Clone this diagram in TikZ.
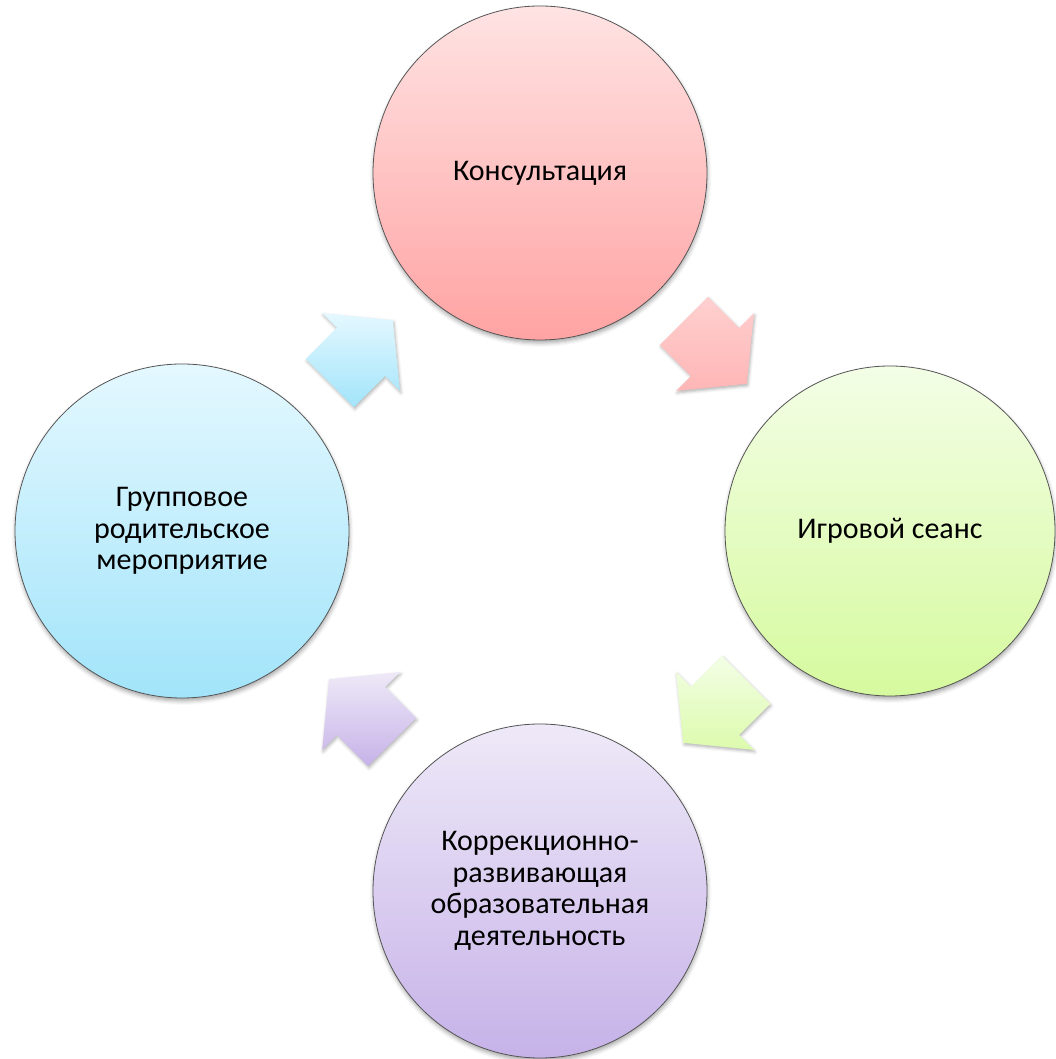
\documentclass[tikz,border=0pt]{standalone}
\usepackage{fontspec}
\setmainfont{Carlito}
\usetikzlibrary{calc}
\usetikzlibrary{shadows.blur}

\definecolor{pinkTop}{RGB}{255,227,227}
\definecolor{pinkBottom}{RGB}{255,163,163}
\definecolor{greenTop}{RGB}{243,254,230}
\definecolor{greenBottom}{RGB}{214,250,158}
\definecolor{blueTop}{RGB}{228,248,255}
\definecolor{blueBottom}{RGB}{162,228,250}
\definecolor{violetTop}{RGB}{238,233,248}
\definecolor{violetBottom}{RGB}{198,178,232}
\definecolor{rimgray}{RGB}{85,85,85}

\tikzset{
  stage/.style={circle, minimum size=334pt, inner sep=0pt, draw=rimgray,
    line width=0.8pt, align=center, text=black,
    font=\fontsize{30pt}{31.5pt}\selectfont,
    blur shadow={shadow xshift=0.5pt, shadow yshift=-3pt,
      shadow blur radius=4pt, shadow opacity=35}},
  pics/cyclearrow/.style 2 args={code={
    \shade[top color=#1, bottom color=#2,
      blur shadow={shadow xshift=1pt, shadow yshift=-2pt,
        shadow blur radius=3pt, shadow opacity=30}]
      (-44,34) -- (0,34) -- (0,55) -- (45,0) -- (0,-55) -- (0,-34) -- (-44,-34) -- cycle;
  }}
}

\begin{document}
\begin{tikzpicture}[x=1pt, y=1pt]
    \useasboundingbox (0,0) rectangle (1056,1059);
    % Four stages of the cycle
    \node [stage, top color=pinkTop, bottom color=pinkBottom] (consult) at (540,886) {Консультация};
    \node [stage, top color=greenTop, bottom color=greenBottom, minimum size=330pt] (game) at (890,528) {Игровой сеанс};
    \node [stage, top color=violetTop, bottom color=violetBottom] (correct) at (540,168)
      {Коррекционно-\\развивающая\\образовательная\\деятельность};
    \node [stage, top color=blueTop, bottom color=blueBottom] (group) at (182,528)
      {Групповое\\родительское\\мероприятие};
    % Arrows between the stages
    \pic [rotate=-45] (consultarrow) at ($(consult)!0.5!(game)$) {cyclearrow={pinkTop!70!pinkBottom}{pinkBottom!80!white}};
    \pic [rotate=-135] (gamearrow) at ($(game)!0.5!(correct)$) {cyclearrow={greenTop}{greenBottom!85!white}};
    \pic [rotate=135] (correctarrow) at ($(correct)!0.5!(group)$) {cyclearrow={violetTop}{violetBottom}};
    \pic [rotate=45] (grouparrow) at ($(group)!0.5!(consult)$) {cyclearrow={blueTop}{blueBottom}};
\end{tikzpicture}
\end{document}
